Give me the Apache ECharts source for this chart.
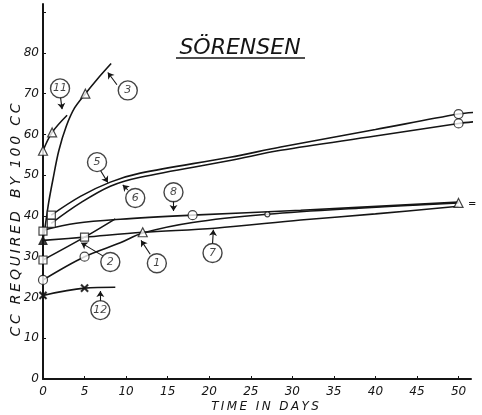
<!DOCTYPE html>
<html><head><meta charset="utf-8">
<script src="https://cdn.jsdelivr.net/npm/echarts@6/dist/echarts.min.js"></script>
<style>html,body{margin:0;padding:0;background:#fff}#c{width:482px;height:415px}</style>
</head><body><div id="c"></div>
<script>
// tick labels
const xTickLabels = [0,5,10,15,20,25,30,35,40,45,50];
const yTickLabels = [0,10,20,30,40,50,60,70,80];

// series values [day, cc]
const s1  = [[0,24.3],[5,30],[9.3,33.4],[12,35.8],[18,38.4],[27,40.4],[38,41.9],[50,43.2]];
const s2  = [[0,29.2],[5,34.8],[8.7,39.3]];
const s3  = [[0,34],[0.3,38],[0.7,43.5],[1.2,49],[1.9,56],[2.8,62],[3.8,66.5],[5.1,70],[6.5,73.5],[8.2,77.4]];
const s5  = [[1,40.2],[4.5,44.8],[8.1,48.3],[11.7,50.5],[22.5,54.4],[28.6,56.9],[40,61.2],[50,65],[51.8,65.4]];
const s6  = [[1,38.2],[4.5,43.2],[8.1,47.3],[11.7,49.5],[22.5,53.6],[28.6,56.1],[40,59.6],[50,62.7],[51.8,63.1]];
const s7  = [[0,34],[5,34.8],[12,36],[20.7,37],[31,39],[40,40.5],[50,42.4]];
const s8  = [[0,36.5],[4,38.2],[9.3,39.2],[18,40.2],[31,41.4],[50,43.4]];
const s11 = [[0,56],[1.1,60.5],[2.9,64.7]];
const s12 = [[0,20.5],[5,22.3],[8.7,22.5]];

// plotted observation markers
const circlePts   = [[0,24.3],[5,30],[18,40.2],[50,65],[50,62.7]];
const smallCircle = [[27,40.4]];
const squarePts   = [[0,29.2],[5,34.8],[1,40.2],[1,38.2],[0,36.3]];
const trianglePts = [[5.1,70],[0,56],[1.1,60.5],[50,43.2],[12,36]];
const filledTri   = [[0,34]];
const crossPts    = [[0,20.5],[5,22.3]];

// curve labels (circled numbers) and their pointer arrows [from, to]
const labelPts = [[2.05,71.3,'11'],[10.2,70.8,'3'],[6.5,53.2,'5'],[11.1,44.4,'6'],[15.7,45.8,'8'],
                  [8.1,28.7,'2'],[13.7,28.4,'1'],[20.4,30.9,'7'],[6.9,16.9,'12']];
const arrows = [
  [[2.1,69.2],[2.3,66.2]],
  [[8.9,72.2],[7.8,75.2]],
  [[6.9,51.2],[7.8,48.2]],
  [[10.2,46.4],[9.6,47.6]],
  [[15.7,43.8],[15.7,41.2]],
  [[7.2,30.2],[4.6,33.4]],
  [[12.9,30.6],[11.8,34.0]],
  [[20.4,33.2],[20.5,36.6]],
  [[6.9,18.9],[6.9,21.6]]
];

const ink = '#151515';
const font = '"DejaVu Sans", sans-serif';
const spaced = s => s.split('').join('\u2009');
const chart = echarts.init(document.getElementById('c'), null, {renderer:'canvas'});

function lineSeries(d){
  return {type:'line', data:d, smooth:0.35, showSymbol:false, symbol:'none',
    lineStyle:{color:ink, width:1.6}, z:2, silent:true};
}
function scat(d, symbol, size, filled){
  return {type:'scatter', data:d, symbol:symbol, symbolSize:size,
    itemStyle:{color: filled ? ink : '#fff', borderColor:ink, borderWidth:1.2}, z:4, silent:true};
}

const xCross = 'path://M0,1 L1,0 L5,4 L9,0 L10,1 L6,5 L10,9 L9,10 L5,6 L1,10 L0,9 L4,5 Z';

chart.setOption({
  backgroundColor:'#fff',
  animation:false,
  grid:{left:43, right:11, top:4, bottom:36},
  xAxis:{type:'value', min:0, max:51.5, interval:5,
    axisLine:{lineStyle:{color:ink, width:2}},
    axisTick:{show:true, inside:true, length:3, lineStyle:{color:ink}},
    splitLine:{show:false},
    axisLabel:{color:ink, fontSize:12, fontStyle:'italic', fontFamily:font, margin:7,
      showMaxLabel:false,
      formatter:v => xTickLabels.indexOf(v) >= 0 ? String(v) : ''}
  },
  yAxis:{type:'value', min:0, max:92, interval:10,
    axisLine:{show:true, lineStyle:{color:ink, width:2}},
    axisTick:{show:true, inside:true, length:3, lineStyle:{color:ink}},
    splitLine:{show:false},
    axisLabel:{color:ink, fontSize:12, fontStyle:'italic', fontFamily:font, margin:4,
      showMaxLabel:false,
      formatter:v => yTickLabels.indexOf(v) >= 0 ? String(v) : ''}
  },
  graphic:[
    {type:'text', x:240, y:48, style:{text:'SÖRENSEN', fill:ink, font:'italic 22px '+font,
      textAlign:'center', textVerticalAlign:'middle'}},
    {type:'line', shape:{x1:176, y1:58, x2:305, y2:58}, style:{stroke:ink, lineWidth:1.5}},
    {type:'text', x:16, y:220, rotation:Math.PI/2, style:{text:spaced('CC REQUIRED')+'   '+spaced('BY')+'  '+spaced('100 CC'),
      fill:ink, font:'italic 14px '+font, textAlign:'center', textVerticalAlign:'middle'}},
    {type:'text', x:265, y:407, style:{text:spaced('TIME IN DAYS'), fill:ink, font:'italic 12px '+font,
      textAlign:'center', textVerticalAlign:'middle'}},
    {type:'text', x:468, y:204, style:{text:"=  '", fill:ink, font:'10px '+font, textVerticalAlign:'middle'}}
  ],
  series:[
    lineSeries(s1), lineSeries(s2), lineSeries(s3), lineSeries(s5), lineSeries(s6),
    lineSeries(s7), lineSeries(s8), lineSeries(s11), lineSeries(s12),
    scat(circlePts, 'circle', 9, false),
    scat(smallCircle, 'circle', 5, false),
    scat(squarePts, 'rect', 8, false),
    scat(trianglePts, 'triangle', 9, false),
    scat(filledTri, 'triangle', 8, true),
    scat(crossPts, xCross, 7, true),
    {type:'scatter', data:labelPts, symbol:'circle', symbolSize:19, z:5, silent:true,
      itemStyle:{color:'#fff', borderColor:ink, borderWidth:1.4},
      label:{show:true, position:'inside', formatter:p => p.value[2], color:ink,
        fontSize:11, fontStyle:'italic', fontFamily:font}},
    {type:'lines', coordinateSystem:'cartesian2d', data:arrows.map(a => ({coords:a})),
      symbol:['none','arrow'], symbolSize:6, z:5, silent:true,
      lineStyle:{color:ink, width:1.1, opacity:1}}
  ]
});
</script></body></html>
